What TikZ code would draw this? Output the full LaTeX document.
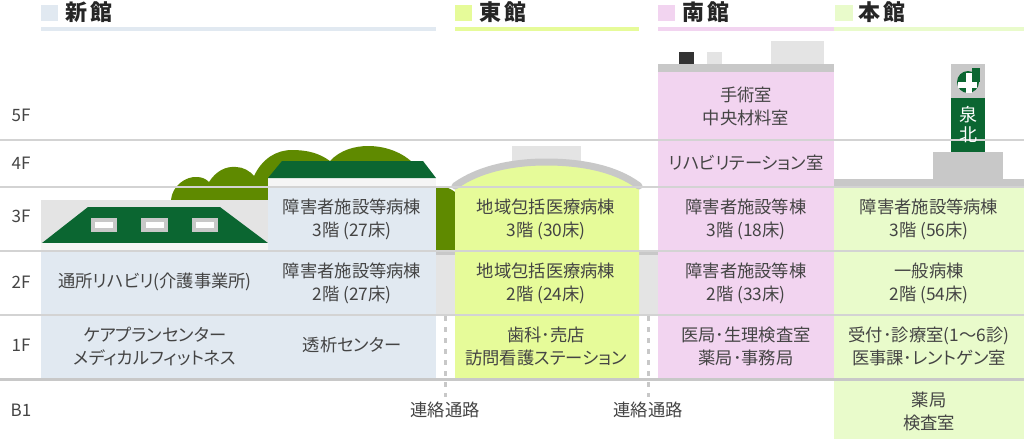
\documentclass[tikz,border=0pt]{standalone}
\usepackage{fontspec}
\setmainfont[RawFeature=+palt]{Noto Sans CJK JP}
\usetikzlibrary{positioning}

\definecolor{shinblue}{HTML}{E1E9F1}
\definecolor{higayellow}{HTML}{E6FB99}
\definecolor{minapink}{HTML}{F2D4F0}
\definecolor{honlime}{HTML}{E9FBCB}
\definecolor{roofgreen}{HTML}{0B6631}
\definecolor{treegreen}{HTML}{5F8A00}
\definecolor{roofgray}{HTML}{C8C8C8}
\definecolor{boxgray}{HTML}{E4E4E4}
\definecolor{textgray}{HTML}{444444}

\tikzset{
  room/.style={align=center, inner sep=0pt, text=textgray, font=\fontsize{17.3}{23}\selectfont},
  floorlabel/.style={inner sep=0pt, text=textgray, font=\fontsize{17}{18}\selectfont},
  title/.style={anchor=west, inner sep=0pt, text=black!85, font=\fontsize{22}{24}\selectfont\bfseries},
  floorline/.style={draw=roofgray!80, line width=1.3pt},
  passage/.style={draw=roofgray, line width=3pt, dash pattern=on 5pt off 6pt}
}

\begin{document}
\begin{tikzpicture}[x=1pt,y=-1pt]
\useasboundingbox (0,0) rectangle (1024,439);

% header
\fill[shinblue] (41,5) rectangle (58,21);
\fill[shinblue] (41,27) rectangle (436,31);
\node[title] (shinkan) at (65,12) {新\,館};
\fill[higayellow] (455,5) rectangle (472,21);
\fill[higayellow] (455,27) rectangle (639,31);
\node[title] (higashi) at (479,12) {東\,館};
\fill[minapink] (658,5) rectangle (675,21);
\fill[minapink] (658,27) rectangle (834,31);
\node[title] (minami) at (682,12) {南\,館};
\fill[honlime] (835,5) rectangle (853,21);
\fill[honlime] (834,27) rectangle (1024,31);
\node[title] (honkan) at (858,12) {本\,館};

% trees
\fill[treegreen] (171,200) .. controls (172,186) and (186,176) .. (197,177)
  .. controls (202,177) and (206,179) .. (209,182)
  .. controls (216,171) and (226,166) .. (236,167)
  .. controls (243,167) and (250,171) .. (254,176)
  .. controls (262,159) and (276,150) .. (292,150)
  .. controls (307,150) and (319,153) .. (330,161)
  .. controls (340,150) and (355,146) .. (368,146)
  .. controls (385,146) and (403,152) .. (415,165) -- (415,200) -- cycle;
\fill[treegreen] (436,187) -- (443,187) .. controls (447,187) and (451,189) .. (455,192) -- (455,251) -- (436,251) -- cycle;

% new building
\fill[boxgray] (41,200) rectangle (268,245);
\fill[roofgreen] (42,243) -- (88,207) -- (220,207) -- (268,243) -- cycle;
\fill[roofgray] (91,218) rectangle (117,232);
\fill[white] (95,222) rectangle (113,228);
\fill[roofgray] (141,218) rectangle (168,232);
\fill[white] (146,222) rectangle (164,228);
\fill[roofgray] (192,218) rectangle (218,232);
\fill[white] (196,222) rectangle (214,228);
\fill[black!4] (41,243) rectangle (268,251);
\fill[shinblue] (41,251) rectangle (436,379);
\fill[black!4] (268,178) rectangle (436,187);
\fill[shinblue] (268,187) rectangle (436,251);
\fill[roofgreen] (268,178) -- (282,161) -- (423,161) -- (436,178) -- cycle;

% links between buildings
\fill[roofgray] (436,251) rectangle (455,255);
\fill[boxgray] (436,255) rectangle (455,315);
\fill[roofgray] (639,251) rectangle (658,255);
\fill[boxgray] (639,255) rectangle (658,315);

% east building
\fill[boxgray] (512,146) rectangle (581,165);
\fill[higayellow] (455,187) .. controls (480,170) and (515,164) .. (546,164)
  .. controls (580,164) and (615,170) .. (639,187) -- (639,379) -- (455,379) -- cycle;
\draw[roofgray, line width=7pt, line cap=round] (455,186) .. controls (480,168) and (515,162) .. (546,162)
  .. controls (580,162) and (615,168) .. (639,186);

% south building
\fill[black!80] (679,52) rectangle (694,64);
\fill[boxgray] (707,52) rectangle (722,64);
\fill[boxgray] (771,41) rectangle (824,64);
\fill[roofgray] (658,64) rectangle (834,72);
\fill[minapink] (658,72) rectangle (834,379);

% main building
\fill[roofgray] (933,152) rectangle (1003,179);
\fill[roofgray] (951,64) rectangle (985,98);
\fill[roofgreen] (951,98) rectangle (985,152);
\fill[roofgreen] (968,82) circle (11pt);
\fill[roofgreen] (972,68) rectangle (980,82);
\fill[white] (966,73) rectangle (972,93);
\fill[white] (958,82) rectangle (977,88);
\fill[roofgray] (834,179) rectangle (1024,187);
\fill[honlime] (834,187) rectangle (1024,379);
\fill[honlime] (834,381) rectangle (1024,439);

% floor lines
\draw[floorline] (0,140) -- (1024,140);
\draw[floorline] (0,187) -- (1024,187);
\draw[floorline] (0,251) -- (1024,251);
\draw[floorline] (0,315) -- (1024,315);
\draw[roofgray, line width=3.5pt] (0,379.5) -- (1024,379.5);

% passages
\coordinate (passA) at (445,316);
\coordinate (passAend) at (445,397);
\coordinate (passB) at (648,316);
\coordinate (passBend) at (648,397);
\draw[passage] (passA) -- (passAend);
\draw[passage] (passB) -- (passBend);

% floors
\node[floorlabel] (f5) at (21,115) {5F};
\node[floorlabel] (f4) at (21,163) {4F};
\node[floorlabel] (f3) at (21,216) {3F};
\node[floorlabel] (f2) at (21,282) {2F};
\node[floorlabel] (f1) at (21,345) {1F};
\node[floorlabel] (fb1) at (21,410) {B1};

% rooms
\node[room] (shin3) at (352,219) {障害者施設等病棟\\3階 (27床)};
\node[room] (shin2) at (352,283) {障害者施設等病棟\\2階 (27床)};
\node[room] (shin2l) at (155,282) {通所リハビリ(介護事業所)};
\node[room] (shin1l) at (155,346) {ケアプランセンター\\メディカルフィットネス};
\node[room] (shin1) at (352,345) {透析センター};
\node[room] (higa3) at (546,219) {地域包括医療病棟\\3階 (30床)};
\node[room] (higa2) at (546,283) {地域包括医療病棟\\2階 (24床)};
\node[room] (higa1) at (546,346) {歯科･売店\\訪問看護ステーション};
\node[room] (mina5) at (746,106) {手術室\\中央材料室};
\node[room] (mina4) at (746,163) {リハビリテーション室};
\node[room] (mina3) at (746,219) {障害者施設等棟\\3階 (18床)};
\node[room] (mina2) at (746,283) {障害者施設等棟\\2階 (33床)};
\node[room] (mina1) at (746,346) {医局･生理検査室\\薬局･事務局};
\node[room] (hon3) at (929,219) {障害者施設等病棟\\3階 (56床)};
\node[room] (hon2) at (929,283) {一般病棟\\2階 (54床)};
\node[room] (hon1) at (929,346) {受付･診療室(1～6診)\\医事課･レントゲン室};
\node[room] (honb1) at (929,411) {薬局\\検査室};
\node[room] (link1) at (445,410) {連絡通路};
\node[room] (link2) at (648,410) {連絡通路};
\node[room, text=white, font=\fontsize{18}{20}\selectfont] (izumi) at (968,125) {泉\\北};
\end{tikzpicture}
\end{document}
